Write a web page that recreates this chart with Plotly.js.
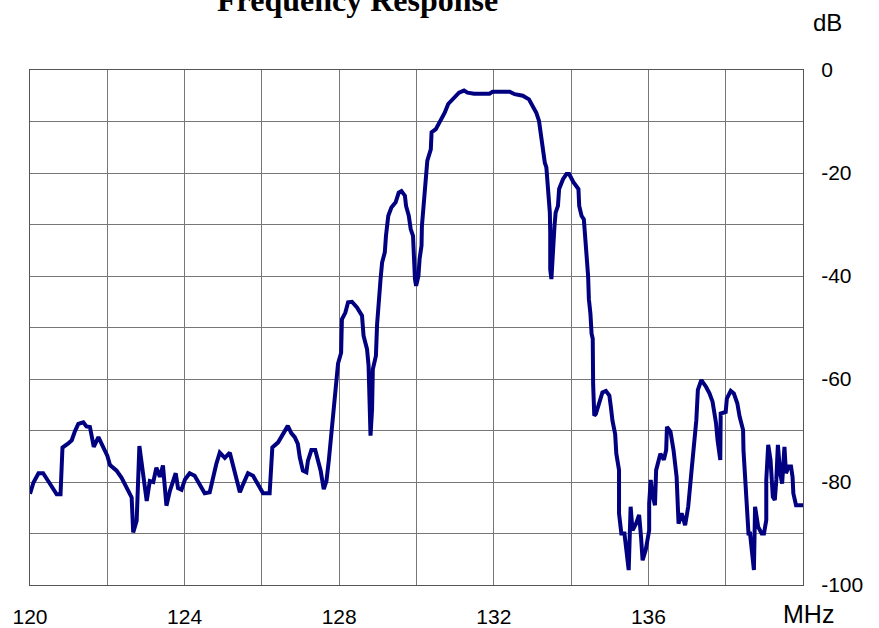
<!DOCTYPE html>
<html>
<head>
<meta charset="utf-8">
<script src="https://cdn.plot.ly/plotly-3.0.1.min.js"></script>
<style>html,body{margin:0;padding:0;background:#fff;}#chart{width:879px;height:628px;}</style>
</head>
<body>
<div id="chart"></div>
<script>
const freqMHz = [
120.00,120.09,120.22,120.34,120.47,120.60,120.69,120.79,120.84,120.99,
121.08,121.16,121.25,121.38,121.46,121.55,121.65,121.77,121.89,122.00,
122.07,122.24,122.37,122.50,122.63,122.67,122.76,122.83,122.93,123.02,
123.10,123.19,123.27,123.36,123.44,123.53,123.62,123.70,123.77,123.83,
123.92,124.01,124.13,124.26,124.39,124.52,124.65,124.74,124.82,124.91,
125.04,125.17,125.25,125.34,125.43,125.51,125.64,125.77,125.90,126.03,
126.20,126.27,126.42,126.55,126.67,126.76,126.85,126.93,126.98,127.06,
127.15,127.19,127.28,127.38,127.43,127.52,127.60,127.67,127.73,127.80,
127.84,127.88,127.93,127.97,128.05,128.07,128.16,128.23,128.33,128.46,
128.59,128.63,128.72,128.76,128.81,128.85,128.87,128.95,128.98,129.02,
129.07,129.11,129.18,129.21,129.27,129.35,129.46,129.54,129.61,129.70,
129.73,129.80,129.85,129.91,129.93,129.96,129.99,130.05,130.08,130.13,
130.14,130.17,130.22,130.26,130.28,130.37,130.39,130.50,130.60,130.67,
130.73,130.82,130.97,131.10,131.23,131.32,131.49,131.89,131.97,132.41,
132.54,132.75,132.91,133.01,133.10,133.17,133.23,133.27,133.32,133.36,
133.38,133.43,133.45,133.46,133.46,133.49,133.53,133.57,133.60,133.66,
133.69,133.79,133.88,133.95,134.06,134.19,134.21,134.27,134.33,134.36,
134.42,134.44,134.46,134.50,134.53,134.56,134.57,134.60,134.64,134.73,
134.81,134.90,134.99,135.03,135.07,135.14,135.17,135.24,135.24,135.30,
135.38,135.43,135.49,135.54,135.59,135.68,135.76,135.81,135.85,135.93,
136.02,136.02,136.06,136.10,136.17,136.20,136.27,136.31,136.40,136.46,
136.48,136.57,136.65,136.73,136.78,136.86,136.95,137.03,137.11,137.24,
137.28,137.37,137.49,137.58,137.66,137.75,137.79,137.86,137.87,138.00,
138.03,138.13,138.21,138.30,138.36,138.45,138.46,138.50,138.55,138.59,
138.63,138.70,138.73,138.76,138.84,138.93,138.99,139.05,139.05,139.10,
139.16,139.22,139.27,139.31,139.35,139.41,139.46,139.52,139.56,139.63,
139.69,139.73,139.75,139.82,140.00
];
const responseDB = [
-82.3,-80.1,-78.3,-78.3,-79.8,-81.2,-82.4,-82.4,-73.3,-72.5,
-71.9,-70.2,-68.7,-68.4,-69.2,-69.3,-73.2,-71.3,-73.0,-74.9,
-76.7,-77.8,-79.2,-81.1,-83.0,-89.8,-87.5,-73.0,-78.5,-83.7,
-79.8,-80.0,-77.2,-79.0,-76.8,-84.6,-81.7,-80.0,-78.3,-81.2,
-81.5,-79.5,-78.3,-78.8,-80.7,-82.2,-82.0,-79.0,-76.5,-74.3,
-75.3,-74.3,-76.8,-80.0,-82.0,-80.5,-78.3,-78.8,-80.7,-82.2,
-82.2,-73.3,-72.3,-70.7,-69.1,-70.5,-71.3,-72.6,-75.2,-77.8,
-78.1,-75.9,-73.8,-73.8,-75.2,-77.8,-81.4,-79.8,-75.9,-70.0,
-68.1,-64.2,-60.3,-57.0,-54.9,-48.4,-47.1,-45.1,-45.0,-46.1,
-47.7,-51.6,-54.2,-57.4,-71.0,-65.9,-58.1,-55.5,-49.4,-44.2,
-40.6,-37.4,-35.4,-32.2,-28.3,-26.7,-25.7,-23.8,-23.5,-24.4,
-26.4,-28.3,-30.9,-32.2,-36.1,-40.6,-41.9,-40.0,-36.7,-34.1,
-30.3,-27.7,-23.8,-19.9,-17.6,-15.4,-12.1,-11.5,-10.2,-8.9,
-8.3,-6.6,-5.3,-4.4,-4.0,-4.4,-4.6,-4.6,-4.2,-4.2,
-4.7,-5.0,-5.7,-7.0,-8.3,-9.9,-13.4,-15.4,-18.0,-18.9,
-21.2,-24.4,-27.7,-31.6,-38.7,-40.6,-34.1,-30.3,-27.7,-26.4,
-23.1,-21.2,-20.2,-20.2,-21.8,-23.1,-26.4,-28.3,-29.0,-31.6,
-36.1,-40.0,-44.5,-47.3,-51.2,-52.2,-61.0,-67.1,-66.8,-64.8,
-62.6,-62.3,-63.2,-65.5,-68.1,-70.7,-74.5,-77.7,-86.1,-90.0,
-90.0,-93.2,-97.1,-84.8,-89.4,-88.1,-86.4,-90.7,-95.2,-93.2,
-89.4,-84.2,-79.6,-82.2,-84.5,-77.7,-75.7,-74.5,-75.7,-73.8,
-69.3,-70.2,-73.8,-79.0,-88.1,-86.1,-88.4,-84.8,-78.3,-68.0,
-62.1,-60.2,-61.5,-62.8,-64.4,-68.6,-71.9,-75.7,-66.7,-66.4,
-63.8,-62.3,-62.8,-64.7,-67.3,-69.9,-73.8,-79.0,-84.8,-90.0,
-90.0,-95.2,-97.1,-84.8,-88.7,-90.0,-90.0,-87.4,-79.6,-72.8,
-75.7,-82.9,-83.5,-79.6,-72.8,-78.3,-80.3,-73.2,-78.3,-77.0,
-77.0,-79.0,-82.2,-84.5,-84.5
];
const xTickVals = [120,122,124,126,128,130,132,134,136,138,140];
const xTickText = ['120','','124','','128','','132','','136','',''];
const yTickVals = [-100,-90,-80,-70,-60,-50,-40,-30,-20,-10,0];
const yTickText = ['-100','','-80','','-60','','-40','','-20','','0'];
const chartTitle = 'Frequency Response';
const xUnit = 'MHz';
const yUnit = 'dB';

const trace = {
  x: freqMHz, y: responseDB, type: 'scatter', mode: 'lines',
  line: {color: '#000080', width: 4},
  hoverinfo: 'skip'
};
const sans = 'Liberation Sans, Arial, sans-serif';
const layout = {
  width: 879, height: 628,
  margin: {l: 30, r: 76, t: 70, b: 43},
  paper_bgcolor: '#ffffff', plot_bgcolor: '#ffffff',
  showlegend: false,
  font: {family: sans, size: 21, color: '#000'},
  xaxis: {
    range: [120, 140], tickvals: xTickVals, ticktext: xTickText,
    showgrid: true, gridcolor: '#777', gridwidth: 1,
    showline: true, mirror: true, linecolor: '#555', linewidth: 1,
    ticks: '', ticklabelstandoff: 13, zeroline: false,
    tickfont: {family: sans, size: 21, color: '#000'}
  },
  yaxis: {
    range: [-100, 0], side: 'right', tickvals: yTickVals, ticktext: yTickText,
    showgrid: true, gridcolor: '#777', gridwidth: 1,
    showline: true, mirror: true, linecolor: '#555', linewidth: 1,
    ticks: '', ticklabelstandoff: 13, zeroline: false,
    tickfont: {family: sans, size: 21, color: '#000'}
  },
  annotations: [
    {text: '<b>' + chartTitle + '</b>', xref: 'paper', yref: 'paper',
     x: 0.4237, y: 1.1359, xanchor: 'center', yanchor: 'middle', showarrow: false,
     font: {family: 'Liberation Serif, Times New Roman, serif', size: 32, color: '#000'}},
    {text: yUnit, xref: 'paper', yref: 'paper', x: 1.0317, y: 1.0922,
     xanchor: 'center', yanchor: 'middle', showarrow: false,
     font: {family: sans, size: 24, color: '#000'}},
    {text: xUnit, xref: 'paper', yref: 'paper', x: 1.0071, y: -0.0563,
     xanchor: 'center', yanchor: 'middle', showarrow: false,
     font: {family: sans, size: 25, color: '#000'}}
  ]
};
Plotly.newPlot('chart', [trace], layout, {displayModeBar: false, staticPlot: true});
</script>
</body>
</html>
